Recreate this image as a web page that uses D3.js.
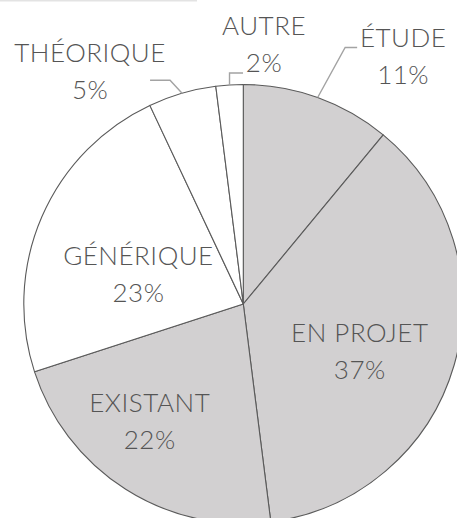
<!DOCTYPE html>
<html>
<head>
<meta charset="utf-8">
<script src="https://cdn.jsdelivr.net/npm/d3@7"></script>
<style>
  html, body { margin: 0; padding: 0; background: #fff; }
  svg { display: block; }
</style>
</head>
<body>
<svg id="chart" width="457" height="518"></svg>
<script>
// ---- data ----
const categories = ["ÉTUDE", "EN PROJET", "EXISTANT", "GÉNÉRIQUE", "THÉORIQUE", "AUTRE"];
const values = [11, 37, 22, 23, 5, 2];
const labelsPct = ["11%", "37%", "22%", "23%", "5%", "2%"];
const shaded = [true, true, true, false, false, false];
const outside = [true, false, false, false, true, true];

// ---- layout (code-level, not data) ----
const W = 457, H = 518;
const cx = 243.3, cy = 304, R = 219.5;
const innerNudge = {
  "EN PROJET": [-10, 1],
  "EXISTANT": [-23, -3],
  "GÉNÉRIQUE": [16, 13]
};
// outer leader: elbow offset from start, horizontal run, text anchor offset from line end
const outerLayout = {
  "ÉTUDE":     { elbow: [27.5, -50], run: 12,  text: [46, 0] },
  "AUTRE":     { elbow: [0, -12],    run: 13.5, text: [21, -38] },
  "THÉORIQUE": { elbow: [-12, -13],  run: -20, text: [-60, -18] }
};
const lineH = 37;

const svg = d3.select("#chart");

svg.append("rect").attr("x", 0).attr("y", 0).attr("width", 197).attr("height", 1.5)
  .attr("fill", "#e3e3e3");

const data = categories.map((c, i) => ({ cat: c, value: values[i], pct: labelsPct[i], shaded: shaded[i], outside: outside[i] }));

const pie = d3.pie().value(d => d.value).sort(null);
const arcs = pie(data);
const arc = d3.arc().innerRadius(0).outerRadius(R);
const edgeArc = d3.arc().innerRadius(R).outerRadius(R);
const labelArc = d3.arc().innerRadius(R * 0.6).outerRadius(R * 0.6);

const g = svg.append("g").attr("transform", `translate(${cx},${cy})`);

g.selectAll("path.slice").data(arcs).join("path")
  .attr("class", "slice")
  .attr("d", arc)
  .attr("fill", d => d.data.shaded ? "#d2d0d1" : "#ffffff")
  .attr("stroke", "#5a5a5a")
  .attr("stroke-width", 1.1)
  .attr("stroke-linejoin", "round");

const font = "Lato, 'Open Sans', sans-serif";

function addLabel(x, y, d) {
  const t = g.append("text")
    .attr("x", x).attr("y", y)
    .attr("text-anchor", "middle")
    .attr("font-family", font)
    .attr("font-size", 26)
    .attr("font-weight", 300)
    .attr("letter-spacing", 0.5)
    .attr("fill", "#555555");
  t.append("tspan").attr("x", x).attr("y", y).text(d.data.cat);
  t.append("tspan").attr("x", x).attr("y", y + lineH).text(d.data.pct);
}

arcs.forEach(d => {
  if (!d.data.outside) {
    const [x, y] = labelArc.centroid(d);
    const n = innerNudge[d.data.cat] || [0, 0];
    addLabel(x + n[0], y + n[1], d);
  } else {
    const L = outerLayout[d.data.cat];
    const [sx, sy] = edgeArc.centroid(d);
    const ex = sx + L.elbow[0], ey = sy + L.elbow[1];
    const hx = ex + L.run;
    g.append("polyline")
      .attr("points", [[sx, sy], [ex, ey], [hx, ey]].map(p => p.join(",")).join(" "))
      .attr("fill", "none")
      .attr("stroke", "#a3a3a3")
      .attr("stroke-width", 1.4);
    addLabel(hx + L.text[0], ey + L.text[1], d);
  }
});
</script>
</body>
</html>
